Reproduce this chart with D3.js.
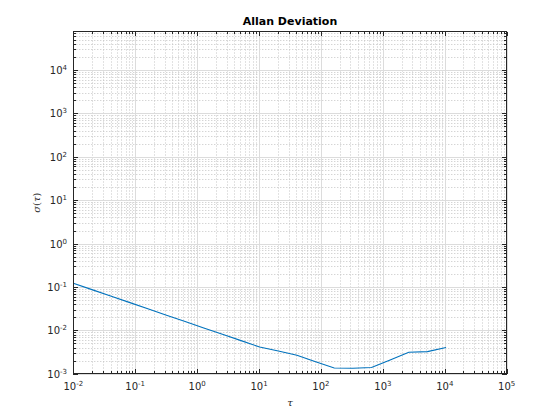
<!DOCTYPE html>
<html>
<head>
<meta charset="utf-8">
<script src="https://cdn.jsdelivr.net/npm/d3@7"></script>
<style>
  body { margin: 0; background: #fff; }
  text { font-family: "DejaVu Sans", sans-serif; fill: #262626; }
</style>
</head>
<body>
<div id="vis"></div>
<script>
// averaging times (tau) in seconds, octave spaced
var tau = [0.01, 0.02, 0.04, 0.08, 0.16, 0.32, 0.64, 1.28, 2.56, 5.12, 10.24,
  20.48, 40.96, 81.92, 163.84, 327.68, 655.36, 1310.72, 2621.44, 5242.88, 10485.76];
// allan deviation
var adev = [0.122, 0.0869, 0.0619, 0.0442, 0.0315, 0.0224, 0.0160, 0.0114, 0.00815,
  0.00581, 0.00414, 0.00335, 0.00268, 0.0019, 0.00136, 0.00134, 0.0014, 0.00208,
  0.00313, 0.00325, 0.00405];

var xTicks = [1e-2, 1e-1, 1e0, 1e1, 1e2, 1e3, 1e4, 1e5];
var yTicks = [1e-3, 1e-2, 1e-1, 1e0, 1e1, 1e2, 1e3, 1e4];

var width = 560, height = 420;
// axes box (window.top is reserved, so prefix names)
var axL = 73.3, axR = 506.7, axT = 31.5, axB = 373.8;

var svg = d3.select('#vis').append('svg')
  .attr('width', width)
  .attr('height', height);

var x = d3.scaleLog().domain([1e-2, 1e5]).range([axL, axR]);
var y = d3.scaleLog().domain([1e-3, 7.7e4]).range([axB, axT]);

// minor values for each decade
function minors(lo, hi) {
  var out = [];
  for (var e = Math.floor(Math.log10(lo)); e < Math.ceil(Math.log10(hi)); e++) {
    for (var m = 2; m <= 9; m++) {
      var v = m * Math.pow(10, e);
      if (v > lo && v < hi) out.push(v);
    }
  }
  return out;
}
var xMinor = minors(1e-2, 1e5);
var yMinor = minors(1e-3, 7.7e4);

var grid = svg.append('g');
// minor grid (dotted)
grid.selectAll('.xmg').data(xMinor).enter().append('line')
  .attr('x1', function (d) { return Math.round(x(d)) + 0.5; })
  .attr('x2', function (d) { return Math.round(x(d)) + 0.5; })
  .attr('y1', axT).attr('y2', axB)
  .attr('stroke', '#c4c4c4').attr('stroke-dasharray', '1,2');
grid.selectAll('.ymg').data(yMinor).enter().append('line')
  .attr('y1', function (d) { return Math.round(y(d)) + 0.5; })
  .attr('y2', function (d) { return Math.round(y(d)) + 0.5; })
  .attr('x1', axL).attr('x2', axR)
  .attr('stroke', '#c4c4c4').attr('stroke-dasharray', '1,2');
// major grid
grid.selectAll('.xg').data(xTicks).enter().append('line')
  .attr('x1', function (d) { return Math.round(x(d)) + 0.5; })
  .attr('x2', function (d) { return Math.round(x(d)) + 0.5; })
  .attr('y1', axT).attr('y2', axB)
  .attr('stroke', '#dcdcdc');
grid.selectAll('.yg').data(yTicks).enter().append('line')
  .attr('y1', function (d) { return Math.round(y(d)) + 0.5; })
  .attr('y2', function (d) { return Math.round(y(d)) + 0.5; })
  .attr('x1', axL).attr('x2', axR)
  .attr('stroke', '#dcdcdc');

// data line
var line = d3.line()
  .x(function (d, i) { return x(tau[i]); })
  .y(function (d) { return y(d); });
svg.append('path')
  .datum(adev)
  .attr('d', line)
  .attr('fill', 'none')
  .attr('stroke', '#0072BD')
  .attr('stroke-width', 1.1);

// box and ticks
var ax = svg.append('g').attr('stroke', '#262626').attr('shape-rendering', 'crispEdges');
ax.append('rect')
  .attr('x', axL).attr('y', axT)
  .attr('width', axR - axL).attr('height', axB - axT)
  .attr('fill', 'none').attr('stroke-width', 1);

function xt(vals, len) {
  vals.forEach(function (d) {
    var px = Math.round(x(d)) + 0.5;
    ax.append('line').attr('x1', px).attr('x2', px).attr('y1', axB).attr('y2', axB - len);
    ax.append('line').attr('x1', px).attr('x2', px).attr('y1', axT).attr('y2', axT + len);
  });
}
function yt(vals, len) {
  vals.forEach(function (d) {
    var py = Math.round(y(d)) + 0.5;
    ax.append('line').attr('y1', py).attr('y2', py).attr('x1', axL).attr('x2', axL + len);
    ax.append('line').attr('y1', py).attr('y2', py).attr('x1', axR).attr('x2', axR - len);
  });
}
xt(xTicks, 4.5); xt(xMinor, 2.5);
yt(yTicks, 4.5); yt(yMinor, 2.5);

// tick labels with superscript exponents
function expOf(d) { return Math.round(Math.log10(d)); }

svg.selectAll('.xl').data(xTicks).enter().append('text')
  .attr('x', function (d) { return x(d); })
  .attr('y', 390)
  .attr('text-anchor', 'middle')
  .style('font-size', '10px')
  .each(function (d) {
    var t = d3.select(this);
    t.append('tspan').text('10');
    t.append('tspan').attr('dy', -4).style('font-size', '7px').text(expOf(d));
  });

svg.selectAll('.yl').data(yTicks).enter().append('text')
  .attr('x', 67)
  .attr('y', function (d) { return y(d) + 4; })
  .attr('text-anchor', 'end')
  .style('font-size', '10px')
  .each(function (d) {
    var t = d3.select(this);
    t.append('tspan').text('10');
    t.append('tspan').attr('dy', -4).style('font-size', '7px').text(expOf(d));
  });

// title and axis labels
svg.append('text')
  .attr('x', (axL + axR) / 2)
  .attr('y', 25)
  .attr('text-anchor', 'middle')
  .style('font-size', '11px')
  .style('font-weight', 'bold')
  .style('fill', '#000')
  .text('Allan Deviation');

svg.append('text')
  .attr('x', (axL + axR) / 2)
  .attr('y', 406)
  .attr('text-anchor', 'middle')
  .style('font-family', '"DejaVu Serif", serif')
  .style('font-style', 'italic')
  .style('font-size', '10px')
  .text('τ');

svg.append('text')
  .attr('transform', 'translate(40,' + ((axT + axB) / 2) + ') rotate(-90)')
  .attr('text-anchor', 'middle')
  .style('font-family', '"DejaVu Serif", serif')
  .style('font-size', '10px')
  .each(function () {
    var t = d3.select(this);
    t.append('tspan').style('font-style', 'italic').text('σ');
    t.append('tspan').text('(');
    t.append('tspan').style('font-style', 'italic').text('τ');
    t.append('tspan').text(')');
  });
</script>
</body>
</html>
